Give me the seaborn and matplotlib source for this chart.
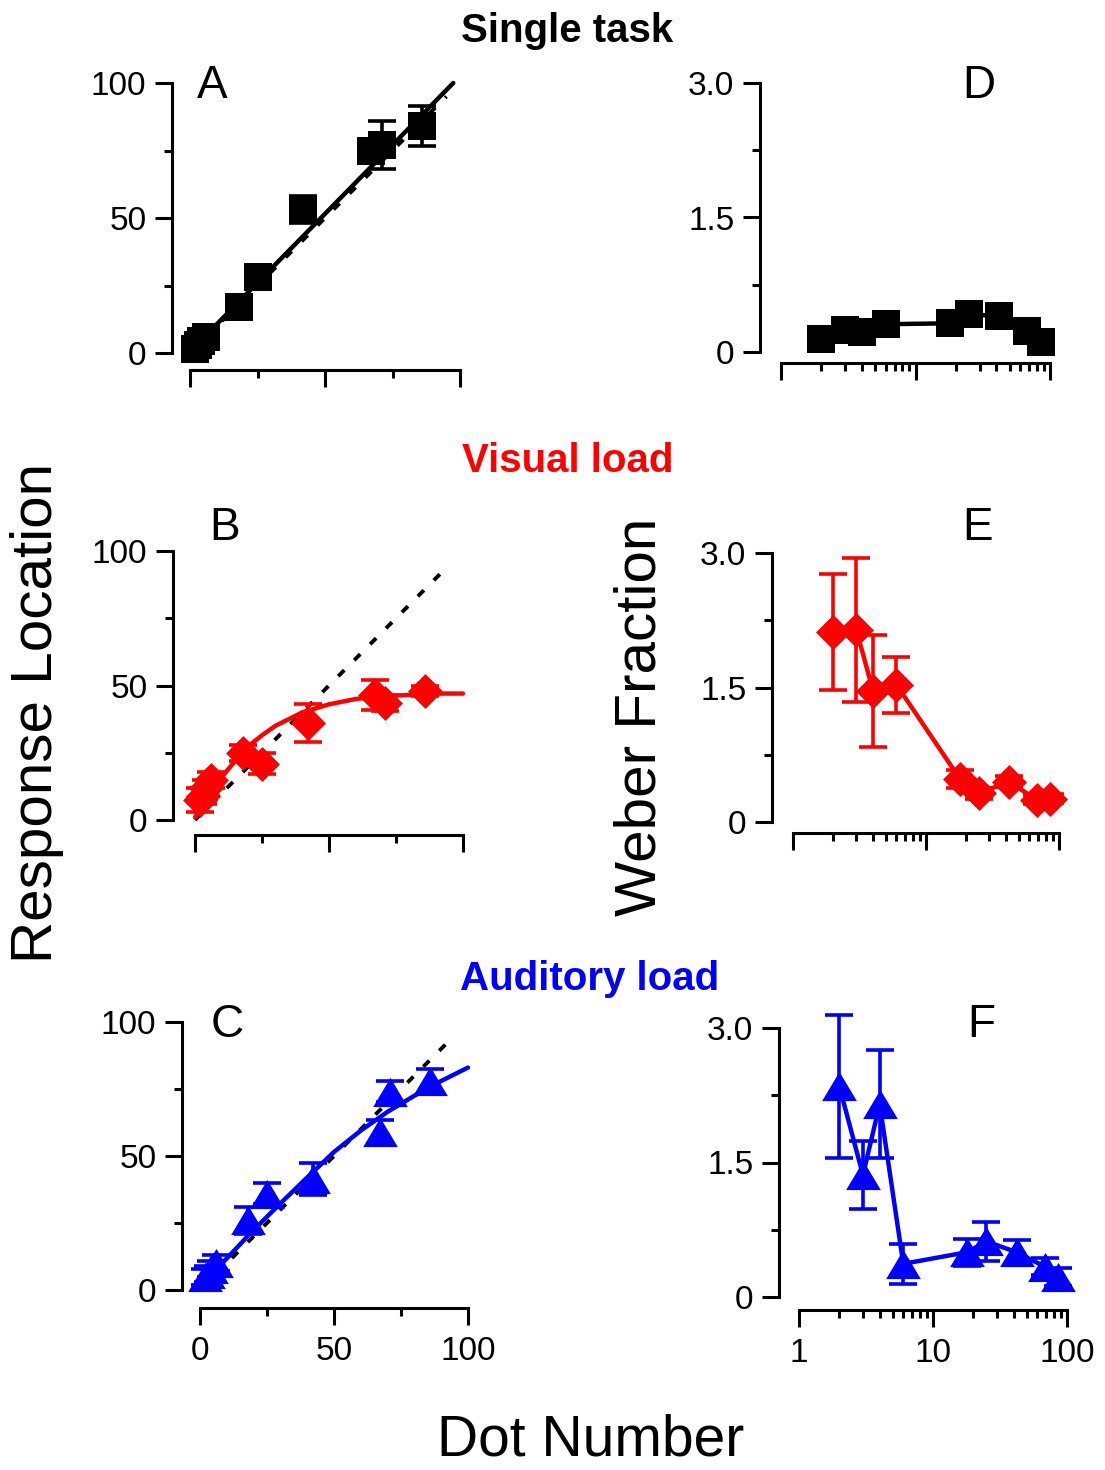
import numpy as np
import pandas as pd
import matplotlib
matplotlib.use("Agg")
import matplotlib.pyplot as plt
from matplotlib.ticker import FixedLocator, FixedFormatter, NullFormatter
import seaborn as sns

# ---------------- data ----------------
dots_lin = [2, 3, 4, 6, 18, 25, 42, 67, 71, 86]
dots_log = [2, 3, 4, 6, 18, 25, 42, 68, 86]

single_resp = [1.5, 3, 4.5, 6, 17, 28, 53, 75, 77, 84]
single_resp_err = [1.5, 1.5, 1.5, 1.5, 2, 2, 5, 4, 9, 7.5]
visual_resp = [7.5, 9, 12, 15, 25, 21, 36, 46.5, 43.5, 48]
visual_resp_err = [4.5, 3, 3, 3, 3, 4, 7, 5.5, 3, 2]
auditory_resp = [5, 6, 8, 10, 26, 36, 41.5, 59, 74, 78]
auditory_resp_err = [3, 3, 3, 3, 5, 4, 6, 4.5, 4, 4.5]

single_wf = [0.15, 0.24, 0.22, 0.31, 0.32, 0.42, 0.40, 0.23, 0.11]
single_wf_err = [0.05, 0.05, 0.05, 0.05, 0.05, 0.06, 0.05, 0.05, 0.05]
visual_wf = [2.12, 2.14, 1.46, 1.53, 0.48, 0.32, 0.45, 0.25, 0.26]
visual_wf_err = [0.65, 0.8, 0.62, 0.31, 0.1, 0.06, 0.06, 0.05, 0.05]
auditory_wf = [2.35, 1.36, 2.15, 0.37, 0.50, 0.62, 0.50, 0.34, 0.22]
auditory_wf_err = [0.8, 0.38, 0.6, 0.22, 0.15, 0.22, 0.14, 0.1, 0.1]

# fitted curves
fitA_x = [-2, 97.5]
fitA_y = [-1.5, 100]
fitB_x = [0, 5, 10, 15, 20, 25, 30, 40, 50, 60, 70, 80, 90, 100]
fitB_y = [1, 9, 16, 22, 27.5, 31.5, 35, 40, 43, 45, 46, 46.5, 47, 47]
fitC_x = [0, 10, 20, 30, 40, 50, 60, 70, 80, 90, 100]
fitC_y = [1.5, 11.8, 22.4, 32.3, 42, 51.5, 59.5, 66.5, 72.5, 78, 83]
ident_x = [0, 95]
ident_y = [0, 95]

lin_ticks = [0, 50, 100]
lin_ticklabels = ["0", "50", "100"]
lin_minor = [25, 75]
wf_ticks = [0, 1.5, 3.0]
wf_ticklabels = ["0", "1.5", "3.0"]
wf_minor = [0.75, 2.25]
log_ticks = [1, 10, 100]
log_ticklabels = ["1", "10", "100"]
log_minor = [2, 3, 4, 5, 6, 7, 8, 9, 20, 30, 40, 50, 60, 70, 80, 90]

RED = "#FF0000"
BLUE = "#0000FF"
BLACK = "#000000"

# ---------------- style ----------------
sns.set_style("ticks")
plt.rcParams["font.family"] = ["Liberation Sans", "DejaVu Sans"]
plt.rcParams["text.color"] = "black"
plt.rcParams["axes.labelcolor"] = "black"
plt.rcParams["axes.linewidth"] = 2.2
plt.rcParams["xtick.color"] = "black"
plt.rcParams["ytick.color"] = "black"
plt.rcParams["xtick.labelcolor"] = "black"
plt.rcParams["ytick.labelcolor"] = "black"
plt.rcParams["axes.edgecolor"] = "black"

W, H = 1105, 1470
fig = plt.figure(figsize=(W / 100, H / 100), dpi=100)


def add_axes(left_px, bottom_px, right_px, top_px):
    return fig.add_axes([left_px / W, 1 - bottom_px / H,
                         (right_px - left_px) / W, (bottom_px - top_px) / H])


def style_axes(ax):
    sns.despine(ax=ax)
    ax.tick_params(which="major", length=12.5, width=2.2, labelsize=24, pad=6,
                   direction="out", colors="black")
    ax.tick_params(which="minor", length=6, width=2.2, direction="out", colors="black")
    ax.set_xlabel("")
    ax.set_ylabel("")
    ax.patch.set_alpha(0)


def lin_panel(yaxp, x0p, x100p, y0p, y100p, xaxp, xlabels):
    sx = (x100p - x0p) / 100.0
    sy = (y0p - y100p) / 100.0
    right = x100p + 12
    top = y100p - 10
    ax = add_axes(yaxp, xaxp, right, top)
    ax.set_xlim((yaxp - x0p) / sx, (right - x0p) / sx)
    ax.set_ylim((y0p - xaxp) / sy, (y0p - top) / sy)
    ax.xaxis.set_major_locator(FixedLocator(lin_ticks))
    ax.xaxis.set_minor_locator(FixedLocator(lin_minor))
    ax.yaxis.set_major_locator(FixedLocator(lin_ticks))
    ax.yaxis.set_minor_locator(FixedLocator(lin_minor))
    ax.yaxis.set_major_formatter(FixedFormatter(lin_ticklabels))
    if xlabels:
        ax.xaxis.set_major_formatter(FixedFormatter(lin_ticklabels))
    else:
        ax.xaxis.set_major_formatter(NullFormatter())
    ax.spines["left"].set_bounds(0, 100)
    ax.spines["bottom"].set_bounds(0, 100)
    return ax


def log_panel(yaxp, x1p, x100p, y0p, y3p, xaxp, xlabels):
    dec = (x100p - x1p) / 2.0
    sy = (y0p - y3p) / 3.0
    right = x100p + 12
    top = y3p - 10
    ax = add_axes(yaxp, xaxp, right, top)
    ax.set_xscale("log")
    ax.set_xlim(10 ** ((yaxp - x1p) / dec), 10 ** ((right - x1p) / dec))
    ax.set_ylim((y0p - xaxp) / sy, (y0p - top) / sy)
    ax.xaxis.set_major_locator(FixedLocator(log_ticks))
    ax.xaxis.set_minor_locator(FixedLocator(log_minor))
    ax.xaxis.set_minor_formatter(NullFormatter())
    if xlabels:
        ax.xaxis.set_major_formatter(FixedFormatter(log_ticklabels))
    else:
        ax.xaxis.set_major_formatter(NullFormatter())
    ax.yaxis.set_major_locator(FixedLocator(wf_ticks))
    ax.yaxis.set_minor_locator(FixedLocator(wf_minor))
    ax.yaxis.set_major_formatter(FixedFormatter(wf_ticklabels))
    ax.spines["left"].set_bounds(0, 3.0)
    ax.spines["bottom"].set_bounds(1, 100)
    return ax


TRI = [(0, 0.84), (-1, -0.84), (1, -0.84)]
markers = {"sq": ("s", 19.5 ** 2), "di": ("D", 17.8 ** 2), "tri": (TRI, 25 ** 2)}


def draw_points(ax, x, y, err, color, mk):
    m, s = markers[mk]
    ax.errorbar(x, y, yerr=err, fmt="none", ecolor=color, elinewidth=2.6,
                capsize=10, capthick=2.6, zorder=3, clip_on=False)
    sns.scatterplot(x=x, y=y, marker=m, s=s, color=color, linewidth=0,
                    ax=ax, zorder=4, clip_on=False, legend=False)


def draw_line(ax, x, y, color, dotted=False, z=2):
    sns.lineplot(x=x, y=y, color=color, linewidth=3.2 if not dotted else 2.8,
                 ax=ax, sort=False, estimator=None, zorder=z, legend=False)
    ln = ax.lines[-1]
    ln.set_clip_on(False)
    if dotted:
        ln.set_linestyle((0, (2.2, 3.6)))
        ln.set_dash_capstyle("butt")


# ---------------- Panel A ----------------
axA = lin_panel(172, 190, 460, 353, 83, 370, False)
style_axes(axA)
draw_line(axA, ident_x, ident_y, BLACK, dotted=True, z=1)
draw_line(axA, fitA_x, fitA_y, BLACK)
draw_points(axA, dots_lin, single_resp, single_resp_err, BLACK, "sq")

# ---------------- Panel B ----------------
axB = lin_panel(173, 195, 463, 820, 551, 835, False)
style_axes(axB)
draw_line(axB, ident_x, ident_y, BLACK, dotted=True, z=1)
draw_line(axB, fitB_x, fitB_y, RED)
draw_points(axB, dots_lin, visual_resp, visual_resp_err, RED, "di")

# ---------------- Panel C ----------------
axC = lin_panel(182, 200, 468, 1290, 1022, 1308, True)
style_axes(axC)
draw_line(axC, ident_x, ident_y, BLACK, dotted=True, z=1)
draw_line(axC, fitC_x, fitC_y, BLUE)
draw_points(axC, dots_lin, auditory_resp, auditory_resp_err, BLUE, "tri")
axC.tick_params(axis="x", pad=8)

# ---------------- Panel D ----------------
axD = log_panel(760, 781, 1050, 352, 83, 363, False)
style_axes(axD)
draw_line(axD, dots_log, single_wf, BLACK)
draw_points(axD, dots_log, single_wf, single_wf_err, BLACK, "sq")

# ---------------- Panel E ----------------
axE = log_panel(772, 793, 1059, 822, 553, 833, False)
style_axes(axE)
draw_line(axE, dots_log, visual_wf, RED)
draw_points(axE, dots_log, visual_wf, visual_wf_err, RED, "di")

# ---------------- Panel F ----------------
axF = log_panel(779, 799, 1067, 1297, 1028, 1310, True)
style_axes(axF)
draw_line(axF, dots_log, auditory_wf, BLUE)
draw_points(axF, dots_log, auditory_wf, auditory_wf_err, BLUE, "tri")
axF.tick_params(axis="x", pad=8)


# ---------------- texts ----------------
def ftext(x, y, s, **kw):
    fig.text(x / W, 1 - y / H, s, **kw)


ftext(567, 41.7, "Single task", fontsize=29, fontweight="bold", ha="center", va="baseline", color=BLACK)
ftext(568, 472, "Visual load", fontsize=29, fontweight="bold", ha="center", va="baseline", color=RED)
ftext(590, 990, "Auditory load", fontsize=29, fontweight="bold", ha="center", va="baseline", color=BLUE)

for letter, x, y in [("A", 212.7, 98), ("D", 979, 98), ("B", 225, 540),
                     ("E", 977.5, 540), ("C", 227, 1037), ("F", 981, 1037)]:
    ftext(x, y, letter, fontsize=33, ha="center", va="baseline", color=BLACK)

ftext(37, 713, "Response Location", fontsize=42, rotation=90, ha="center", va="center", color=BLACK)
ftext(641, 717, "Weber Fraction", fontsize=42, rotation=90, ha="center", va="center", color=BLACK)
ftext(591, 1456, "Dot Number", fontsize=41, ha="center", va="baseline", color=BLACK)

fig.savefig("out.png", dpi=100)
